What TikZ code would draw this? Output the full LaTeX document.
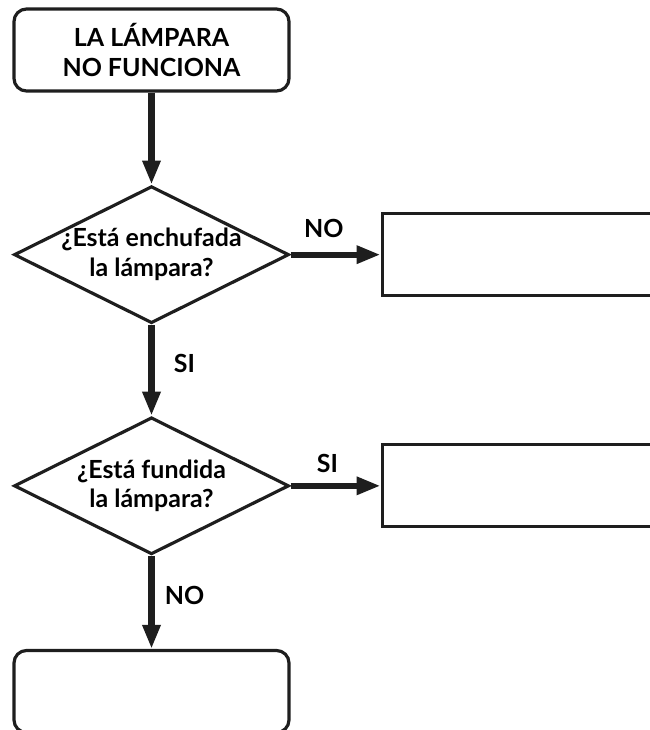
\documentclass[tikz,border=0pt]{standalone}
\usepackage{fontspec}
\setmainfont{Lato}
\usetikzlibrary{shapes.geometric,positioning,arrows.meta}
\definecolor{ink}{HTML}{1E1E1E}

\begin{document}
\begin{tikzpicture}[term/.style={rectangle, rounded corners=0.25cm, draw=ink,
    line width=1.8pt, minimum width=5.5cm, minimum height=1.64cm, align=center,
    font=\bfseries\fontsize{14.2}{17}\selectfont},
    decision/.style={diamond, draw=ink, line width=1.8pt, minimum width=5.5cm,
    minimum height=2.74cm, inner sep=0pt},
    box/.style={rectangle, draw=ink, line width=1.8pt, minimum width=7cm,
    minimum height=1.64cm},
    question/.style={align=center, font=\bfseries\fontsize{14.2}{17}\selectfont},
    answer/.style={font=\bfseries\fontsize{14.2}{16}\selectfont},
    flow/.style={->, draw=ink, line width=3.6pt},
    >={Triangle[length=0.48cm,width=0.34cm]}, node distance=1.8cm]
    \useasboundingbox (0,0) rectangle (13,-14.6);
    \clip (0,0) rectangle (13,-14.6);
    \node[term] (S) at (3.03,-1) {LA LÁMPARA\\NO FUNCIONA};
    \node[decision, below=1.84cm of S,
      label={[question]center:{¿Está enchufada\\la lámpara?}}] (P1) {};
    \node[decision, below=1.82cm of P1,
      label={[question]center:{¿Está fundida\\la lámpara?}}] (P2) {};
    \node[term, below=1.86cm of P2] (E) {};
    \node[box, right=of P1] (R1) {};
    \node[box, right=of P2] (R2) {};
    \draw[flow] (S) -- (P1);
    \draw[flow] (P1) -- node[answer, pos=.43, xshift=0.66cm] {SI} (P2);
    \draw[flow] (P2) -- node[answer, pos=.42, xshift=0.66cm] {NO} (E);
    \draw[flow] (P1) -- node[answer, pos=.37, yshift=0.52cm] {NO} (R1);
    \draw[flow] (P2) -- node[answer, pos=.41, yshift=0.44cm] {SI} (R2);
\end{tikzpicture}
\end{document}
